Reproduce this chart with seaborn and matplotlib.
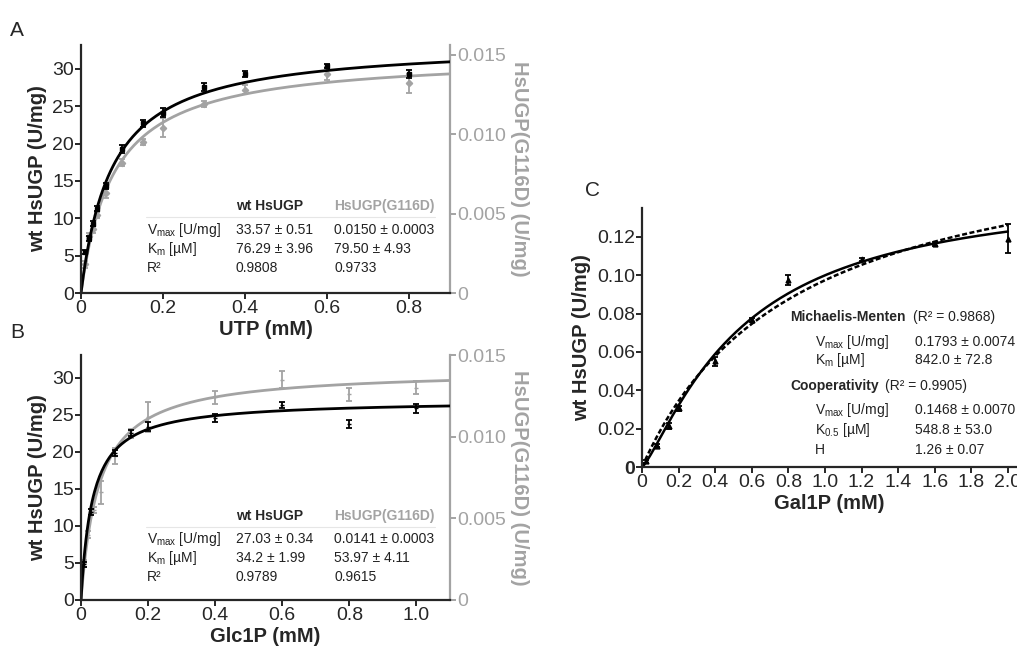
import matplotlib
matplotlib.use("Agg")
import matplotlib.pyplot as plt
import numpy as np
import pandas as pd
import seaborn as sns

# %% data
GRAY = "#a3a3a3"

# panel A: UTP
utp_x = [0.01, 0.02, 0.03, 0.04, 0.06, 0.1, 0.15, 0.2, 0.3, 0.4, 0.6, 0.8]
utp_wt = [5.5, 7.3, 9.3, 11.3, 14.3, 19.3, 22.7, 24.1, 27.6, 29.3, 30.4, 29.3]
utp_wt_err = [0.3, 0.3, 0.3, 0.3, 0.4, 0.5, 0.5, 0.6, 0.5, 0.4, 0.3, 0.5]
utp_mut = [0.0018, 0.0036, 0.0040, 0.0049, 0.0063, 0.0082, 0.0095, 0.0104, 0.0119, 0.0128, 0.0138, 0.0132]
utp_mut_err = [0.0002, 0.0002, 0.0002, 0.0002, 0.0003, 0.0002, 0.0002, 0.0006, 0.0002, 0.0003, 0.0004, 0.0006]
utp_fit = {"wt": (33.57, 0.07629), "mut": (0.0150, 0.07950)}  # Vmax, Km (mM)

# panel B: Glc1P
glc_wt_x = [0.01, 0.03, 0.1, 0.15, 0.2, 0.4, 0.6, 0.8, 1.0]
glc_wt = [4.8, 11.9, 19.8, 22.6, 23.4, 24.6, 26.4, 23.8, 25.9]
glc_wt_err = [0.3, 0.4, 0.4, 0.4, 0.6, 0.5, 0.4, 0.5, 0.6]
glc_mut_x = [0.01, 0.02, 0.04, 0.06, 0.1, 0.15, 0.2, 0.4, 0.6, 0.8, 1.0]
glc_mut = [0.00225, 0.0040, 0.0055, 0.0066, 0.0088, 0.0102, 0.0112, 0.0124, 0.0135, 0.0126, 0.0130]
glc_mut_err = [0.0002, 0.0002, 0.0002, 0.0007, 0.0005, 0.0003, 0.0009, 0.0004, 0.0005, 0.0004, 0.0004]
glc_fit = {"wt": (27.03, 0.0342), "mut": (0.0141, 0.05397)}

# panel C: Gal1P
gal_x = [0.02, 0.08, 0.15, 0.2, 0.4, 0.6, 0.8, 1.2, 1.6, 2.0]
gal_y = [0.003, 0.011, 0.0215, 0.0305, 0.055, 0.0765, 0.0975, 0.1082, 0.1163, 0.119]
gal_err = [0.0008, 0.0008, 0.0015, 0.0012, 0.0025, 0.001, 0.0025, 0.0008, 0.0012, 0.0075]
gal_mm = (0.1793, 0.842)
gal_hill = (0.1468, 0.5488, 1.26)

# %% style
sns.set_style("ticks")
plt.rcParams["font.family"] = ["Liberation Sans", "DejaVu Sans"]
plt.rcParams["mathtext.fontset"] = "custom"
plt.rcParams["mathtext.rm"] = "Liberation Sans"
plt.rcParams["axes.linewidth"] = 1.6
plt.rcParams["xtick.major.width"] = 1.4
plt.rcParams["ytick.major.width"] = 1.4

TICK_FS = 14
LABEL_FS = 14.5
TXT_FS = 10
TXT_C = "#222222"

fig = plt.figure(figsize=(10.17, 6.49), dpi=100)
W, H = 1017, 649


def px_axes(x0, y0, x1, y1):
    return fig.add_axes([x0 / W, 1 - y1 / H, (x1 - x0) / W, (y1 - y0) / H])


def mm_curve(vmax, km, xmax):
    s = np.linspace(0, xmax, 300)
    return pd.DataFrame({"s": s, "v": vmax * s / (km + s)})


def style_left(ax):
    sns.despine(ax=ax, right=True, top=True)
    ax.tick_params(labelsize=TICK_FS, length=4, pad=1)


def style_right(ax2):
    for side in ["top", "left", "bottom"]:
        ax2.spines[side].set_visible(False)
    ax2.spines["right"].set_color(GRAY)
    ax2.tick_params(axis="y", colors=GRAY, labelsize=TICK_FS, length=4, pad=1)


def kinetic_panel(ax, wt_x, wt_y, wt_e, mut_x, mut_y, mut_e, fit, xmax, ylim_l, ylim_r,
                  xticks, xlabel, wt_marker, mut_marker):
    ax2 = ax.twinx()
    sns.lineplot(data=mm_curve(*fit["mut"], xmax), x="s", y="v", ax=ax2, color=GRAY, lw=2)
    ax2.errorbar(mut_x, mut_y, yerr=mut_e, fmt=mut_marker, color=GRAY, ms=3.2,
                 capsize=2.5, elinewidth=1.3, capthick=1.3)
    sns.lineplot(data=mm_curve(*fit["wt"], xmax), x="s", y="v", ax=ax, color="black", lw=2)
    ax.errorbar(wt_x, wt_y, yerr=wt_e, fmt=wt_marker, color="black", ms=3.2,
                capsize=2.5, elinewidth=1.3, capthick=1.3)
    ax.set_zorder(ax2.get_zorder() + 1)
    ax.patch.set_visible(False)
    ax.set_xlim(0, xmax)
    ax.set_ylim(*ylim_l)
    ax2.set_ylim(*ylim_r)
    ax.set_xticks(xticks)
    ax.set_xticklabels(["0" if t == 0 else f"{t:.1f}" for t in xticks])
    ax.set_yticks([0, 5, 10, 15, 20, 25, 30])
    ax2.set_yticks([0, 0.005, 0.010, 0.015])
    ax2.set_yticklabels(["0", "0.005", "0.010", "0.015"])
    style_left(ax)
    style_right(ax2)
    ax.set_xlabel(xlabel, fontsize=LABEL_FS, fontweight="bold", labelpad=2)
    ax.set_ylabel("wt HsUGP (U/mg)", fontsize=LABEL_FS, fontweight="bold", labelpad=4)
    ax2.set_ylabel("HsUGP(G116D) (U/mg)", fontsize=LABEL_FS, fontweight="bold", color=GRAY,
                   rotation=270, labelpad=17)
    return ax2


def fit_table(ax, rows, y0):
    # header, thin rule, three rows, in axes fraction
    ax.text(0.42, y0, "wt HsUGP", transform=ax.transAxes, fontsize=TXT_FS, fontweight="bold",
            va="center")
    ax.text(0.686, y0, "HsUGP(G116D)", transform=ax.transAxes, fontsize=TXT_FS,
            fontweight="bold", color=GRAY, va="center")
    ax.plot([0.175, 0.96], [y0 - 0.043, y0 - 0.043], transform=ax.transAxes,
            color="#e6e6e6", lw=0.8)
    ys = [y0 - 0.095, y0 - 0.172, y0 - 0.248]
    for yy, (lab, a, b) in zip(ys, rows):
        ax.text(0.179, yy, lab, transform=ax.transAxes, fontsize=TXT_FS, va="center", color=TXT_C)
        ax.text(0.42, yy, a, transform=ax.transAxes, fontsize=TXT_FS, va="center", color=TXT_C)
        ax.text(0.686, yy, b, transform=ax.transAxes, fontsize=TXT_FS, va="center", color=TXT_C)


VMAX = r"V$_{\mathrm{max}}$ [U/mg]"
KM = r"K$_{\mathrm{m}}$ [µM]"

# %% panel A
axA = px_axes(81, 45, 450, 293)
kinetic_panel(axA, utp_x, utp_wt, utp_wt_err, utp_x, utp_mut, utp_mut_err, utp_fit,
              0.9, (0, 33.2), (0, 0.0156), [0, 0.2, 0.4, 0.6, 0.8], "UTP (mM)", "s", "D")
fit_table(axA, [(VMAX, "33.57 ± 0.51", "0.0150 ± 0.0003"),
                (KM, "76.29 ± 3.96", "79.50 ± 4.93"),
                ("R²", "0.9808", "0.9733")], 0.349)

# %% panel B
axB = px_axes(81, 355, 450, 600)
kinetic_panel(axB, glc_wt_x, glc_wt, glc_wt_err, glc_mut_x, glc_mut, glc_mut_err, glc_fit,
              1.1, (0, 33.1), (0, 0.015), [0, 0.2, 0.4, 0.6, 0.8, 1.0], "Glc1P (mM)", "_", "_")
fit_table(axB, [(VMAX, "27.03 ± 0.34", "0.0141 ± 0.0003"),
                (KM, "34.2 ± 1.99", "53.97 ± 4.11"),
                ("R²", "0.9789", "0.9615")], 0.343)

# %% panel C
axC = px_axes(642, 208, 1017, 467)
s = np.linspace(0, 2.0, 300)
mm = pd.DataFrame({"s": s, "v": gal_mm[0] * s / (gal_mm[1] + s)})
hill = pd.DataFrame({"s": s, "v": gal_hill[0] * s ** gal_hill[2] / (gal_hill[1] ** gal_hill[2] + s ** gal_hill[2])})
sns.lineplot(data=mm, x="s", y="v", ax=axC, color="black", lw=1.8, linestyle=(0, (2, 1)))
sns.lineplot(data=hill, x="s", y="v", ax=axC, color="black", lw=1.8)
axC.errorbar(gal_x, gal_y, yerr=gal_err, fmt="^", color="black", ms=3.5,
             capsize=2.5, elinewidth=1.3, capthick=1.3)
axC.set_xlim(0, 2.05)
axC.set_ylim(0, 0.135)
axC.set_xticks(np.arange(0, 2.01, 0.2))
axC.set_xticklabels(["0"] + [f"{t:.1f}" for t in np.arange(0.2, 2.01, 0.2)])
axC.set_yticks([0, 0.02, 0.04, 0.06, 0.08, 0.10, 0.12])
axC.set_yticklabels(["0", "0.02", "0.04", "0.06", "0.08", "0.10", "0.12"])
axC.get_yticklabels()[0].set_fontweight("bold")
style_left(axC)
axC.set_xlabel("Gal1P (mM)", fontsize=LABEL_FS, fontweight="bold", labelpad=2)
axC.set_ylabel("wt HsUGP (U/mg)", fontsize=LABEL_FS, fontweight="bold", labelpad=4)

axC.text(0.395, 0.58, "Michaelis-Menten", transform=axC.transAxes, fontsize=TXT_FS,
         fontweight="bold", va="center")
axC.text(0.722, 0.58, "(R² = 0.9868)", transform=axC.transAxes, fontsize=TXT_FS, va="center",
         color=TXT_C)
axC.text(0.395, 0.312, "Cooperativity", transform=axC.transAxes, fontsize=TXT_FS,
         fontweight="bold", va="center")
axC.text(0.648, 0.312, "(R² = 0.9905)", transform=axC.transAxes, fontsize=TXT_FS, va="center",
         color=TXT_C)
c_rows = [
    (0.481, VMAX, "0.1793 ± 0.0074"),
    (0.412, KM, "842.0 ± 72.8"),
    (0.219, VMAX, "0.1468 ± 0.0070"),
    (0.142, r"K$_{\mathrm{0.5}}$ [µM]", "548.8 ± 53.0"),
    (0.065, "H", "1.26 ± 0.07"),
]
for yy, lab, val in c_rows:
    axC.text(0.461, yy, lab, transform=axC.transAxes, fontsize=TXT_FS, va="center", color=TXT_C)
    axC.text(0.728, yy, val, transform=axC.transAxes, fontsize=TXT_FS, va="center", color=TXT_C)

# panel letters
fig.text(10 / W, 1 - 30 / H, "A", fontsize=15, va="center")
fig.text(10 / W, 1 - 332 / H, "B", fontsize=15, va="center")
fig.text(585 / W, 1 - 190 / H, "C", fontsize=15, va="center")

fig.savefig("out.png", dpi=100)
